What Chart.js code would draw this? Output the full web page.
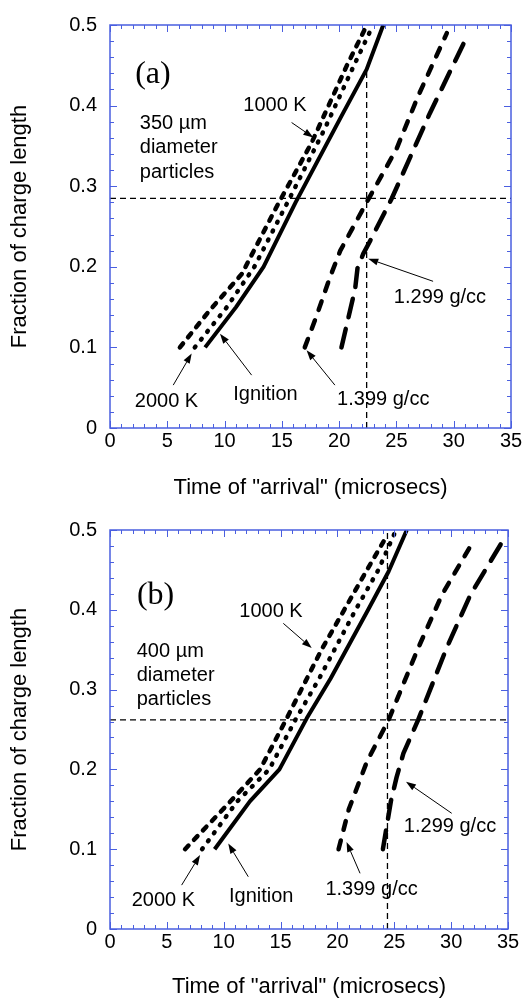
<!DOCTYPE html>
<html lang="en">
<head>
<meta charset="UTF-8" />
<title>Time of arrival vs fraction of charge length</title>
<script src="https://cdn.jsdelivr.net/npm/chart.js@4.4.0/dist/chart.umd.min.js"></script>
<style>
  body { margin: 0; background: #fff; }
  canvas { display: block; }
</style>
</head>
<body>
<canvas id="chartA" width="531" height="499"></canvas>
<canvas id="chartB" width="531" height="499"></canvas>
<script>
// axis ticks (labels)
const xTickVals = [0, 5, 10, 15, 20, 25, 30, 35];
const yTickVals = [0, 0.1, 0.2, 0.3, 0.4, 0.5];

// ---- panel (a): 350 um particles ----
const aTime1000K = [6.1, 8.7, 11.5, 14.6, 17.6, 20.65, 22.25];
const aFrac1000K = [0.1, 0.146, 0.191, 0.276, 0.354, 0.449, 0.495];
const aTime2000K = [7.4, 10.2, 12.6, 15.5, 18.7, 21.3, 22.8];
const aFrac2000K = [0.1, 0.15, 0.2, 0.28, 0.37, 0.45, 0.495];
const aTimeIgn = [8.3, 11.0, 13.4, 16.2, 20.2, 22.4, 23.85];
const aFracIgn = [0.1, 0.15, 0.2, 0.28, 0.387, 0.445, 0.5];
const aTime1399 = [17.0, 18.0, 19.2, 20.1, 22.4, 25.0, 26.9, 29.4];
const aFrac1399 = [0.1, 0.138, 0.187, 0.22, 0.28, 0.346, 0.412, 0.49];
const aTime1299 = [20.2, 21.4, 21.6, 22.1, 22.7, 24.6, 27.9, 31.1];
const aFrac1299 = [0.1, 0.173, 0.198, 0.216, 0.232, 0.285, 0.39, 0.484];
const aHTime = [0, 35];
const aHFrac = [0.285, 0.285];
const aVTime = [22.4, 22.4];
const aVFrac = [0, 0.445];

// ---- panel (b): 400 um particles ----
const bTime1000K = [6.6, 10.4, 13.2, 15.4, 18.6, 20.6, 22.6, 24.4];
const bFrac1000K = [0.1, 0.157, 0.2, 0.26, 0.35, 0.4, 0.45, 0.494];
const bTime2000K = [8.1, 11.2, 14.0, 16.3, 18.4, 21.6, 23.6, 25.0];
const bFrac2000K = [0.1, 0.16, 0.2, 0.262, 0.314, 0.4, 0.45, 0.495];
const bTimeIgn = [9.2, 12.3, 14.9, 17.3, 19.4, 22.7, 24.5, 26.1];
const bFracIgn = [0.1, 0.16, 0.2, 0.264, 0.314, 0.4, 0.448, 0.5];
const bTime1399 = [20.1, 21.0, 22.6, 24.5, 27.1, 29.2, 32.0];
const bFrac1399 = [0.1, 0.15, 0.21, 0.262, 0.352, 0.419, 0.487];
const bTime1299 = [24.0, 24.7, 25.2, 25.8, 27.1, 29.6, 31.7, 34.4];
const bFrac1299 = [0.1, 0.16, 0.19, 0.22, 0.262, 0.352, 0.419, 0.483];
const bHTime = [0, 35];
const bHFrac = [0.262, 0.262];
const bVTime = [24.4, 24.4];
const bVFrac = [0, 0.5];

const sans = "'Liberation Sans', Arial, Helvetica, sans-serif";
const serif = "'Liberation Serif', 'Times New Roman', serif";
const axisBlue = '#4a5fe0';

const curveStyles = {
  k1000: { borderWidth: 4.5, borderDash: [5, 8], borderCapStyle: 'round' },
  k2000: { borderWidth: 4.5, borderDash: [1, 9], borderCapStyle: 'round' },
  ign: { borderWidth: 4, borderDash: [] },
  d1399: { borderWidth: 4.5, borderDash: [9, 11], borderCapStyle: 'round' },
  d1299: { borderWidth: 4.5, borderDash: [19, 12], borderCapStyle: 'round' },
  guide: { borderWidth: 1.3, borderDash: [6, 4] }
};

function pts(xs, ys) {
  return xs.map((x, i) => ({ x: x, y: ys[i] }));
}

function curve(label, xs, ys, style) {
  return Object.assign({
    label: label,
    data: pts(xs, ys),
    showLine: true,
    borderColor: '#000',
    pointRadius: 0,
    fill: false,
    tension: 0,
    borderJoinStyle: 'round'
  }, style);
}

// blue box with inward ticks on all four sides
function drawFrame(chart) {
  const ctx = chart.ctx;
  const area = chart.chartArea;
  const xs = chart.scales.x, ys = chart.scales.y;
  ctx.save();
  ctx.setLineDash([]);
  ctx.strokeStyle = axisBlue;
  ctx.lineWidth = 1;
  ctx.beginPath();
  for (let i = 0; i <= 35; i++) {
    const px = Math.round(xs.getPixelForValue(i)) + 0.5;
    const len = i % 5 === 0 ? 7 : 4;
    ctx.moveTo(px, area.bottom); ctx.lineTo(px, area.bottom - len);
    ctx.moveTo(px, area.top); ctx.lineTo(px, area.top + len);
  }
  for (let i = 0; i <= 25; i++) {
    const py = Math.round(ys.getPixelForValue(i * 0.02)) + 0.5;
    const len = i % 5 === 0 ? 7 : 4;
    ctx.moveTo(area.left, py); ctx.lineTo(area.left + len, py);
    ctx.moveTo(area.right, py); ctx.lineTo(area.right - len, py);
  }
  ctx.stroke();
  ctx.lineWidth = 1.5;
  ctx.strokeRect(area.left, area.top, area.right - area.left, area.bottom - area.top);
  ctx.restore();
}

// frame, text labels and arrows (arrows/labels placed in data units)
const notesPlugin = {
  id: 'notes',
  afterDraw(chart, args, opts) {
    drawFrame(chart);
    const ctx = chart.ctx;
    const x = chart.scales.x, y = chart.scales.y;
    ctx.save();
    ctx.setLineDash([]);
    ctx.fillStyle = '#000';
    ctx.strokeStyle = '#000';
    opts.texts.forEach(n => {
      ctx.font = n.serif ? '32px ' + serif : '20px ' + sans;
      ctx.textAlign = n.align || 'center';
      ctx.textBaseline = n.serif ? 'alphabetic' : 'middle';
      ctx.fillText(n.t, x.getPixelForValue(n.x), y.getPixelForValue(n.y));
    });
    ctx.lineWidth = 1;
    opts.arrows.forEach(a => {
      const x0 = x.getPixelForValue(a[0]), y0 = y.getPixelForValue(a[1]);
      const x1 = x.getPixelForValue(a[2]), y1 = y.getPixelForValue(a[3]);
      const ang = Math.atan2(y1 - y0, x1 - x0);
      const hl = 10, hw = 3.5;
      const bx = x1 - hl * Math.cos(ang), by = y1 - hl * Math.sin(ang);
      ctx.beginPath();
      ctx.moveTo(x0, y0);
      ctx.lineTo(bx, by);
      ctx.stroke();
      ctx.beginPath();
      ctx.moveTo(x1, y1);
      ctx.lineTo(bx + hw * Math.sin(ang), by - hw * Math.cos(ang));
      ctx.lineTo(bx - hw * Math.sin(ang), by + hw * Math.cos(ang));
      ctx.closePath();
      ctx.fill();
    });
    ctx.restore();
  }
};

const notesA = {
  texts: [
    { t: '(a)', x: 2.2, y: 0.428, serif: true, align: 'left' },
    { t: '1000 K', x: 14.4, y: 0.4 },
    { t: '350 µm', x: 2.6, y: 0.3775, align: 'left' },
    { t: 'diameter', x: 2.6, y: 0.348, align: 'left' },
    { t: 'particles', x: 2.6, y: 0.317, align: 'left' },
    { t: '2000 K', x: 4.93, y: 0.033 },
    { t: 'Ignition', x: 13.57, y: 0.041 },
    { t: '1.399 g/cc', x: 23.85, y: 0.035 },
    { t: '1.299 g/cc', x: 28.8, y: 0.1625 }
  ],
  arrows: [
    [15.85, 0.379, 17.74, 0.3605],
    [5.52, 0.0532, 7.13, 0.0925],
    [12.36, 0.0656, 9.6, 0.117],
    [19.63, 0.0532, 17.16, 0.0965],
    [28.2, 0.182, 22.54, 0.21]
  ]
};

const notesB = {
  texts: [
    { t: '(b)', x: 2.37, y: 0.407, serif: true, align: 'left' },
    { t: '1000 K', x: 14.16, y: 0.3976 },
    { t: '400 µm', x: 2.35, y: 0.3475, align: 'left' },
    { t: 'diameter', x: 2.35, y: 0.318, align: 'left' },
    { t: 'particles', x: 2.35, y: 0.287, align: 'left' },
    { t: '2000 K', x: 4.69, y: 0.036 },
    { t: 'Ignition', x: 13.3, y: 0.0405 },
    { t: '1.399 g/cc', x: 23.0, y: 0.049 },
    { t: '1.299 g/cc', x: 29.9, y: 0.128 }
  ],
  arrows: [
    [15.24, 0.383, 17.74, 0.352],
    [6.3, 0.055, 7.92, 0.0927],
    [12.16, 0.0655, 10.4, 0.107],
    [21.99, 0.0698, 20.8, 0.109],
    [30.05, 0.145, 26.03, 0.1846]
  ]
};

function makeChart(id, datasets, notes, box) {
  return new Chart(document.getElementById(id), {
    type: 'scatter',
    data: { datasets: datasets },
    options: {
      responsive: false,
      animation: false,
      events: [],
      layout: { padding: { top: box.top, right: box.right, left: 0, bottom: 0 } },
      plugins: { legend: { display: false }, tooltip: { enabled: false }, notes: notes },
      scales: {
        x: {
          type: 'linear', min: 0, max: 35,
          afterBuildTicks: s => { s.ticks = xTickVals.map(v => ({ value: v })); },
          afterFit: s => { s.height = box.xHeight; },
          grid: { display: false, drawTicks: false },
          border: { display: false },
          ticks: { color: '#000', font: { family: sans, size: 20 }, padding: 1, maxRotation: 0, autoSkip: false },
          title: {
            display: true, text: 'Time of "arrival" (microsecs)', color: '#000',
            font: { family: sans, size: 22, lineHeight: 1 }, padding: { top: 0, bottom: 0 }
          }
        },
        y: {
          type: 'linear', min: 0, max: 0.5,
          afterBuildTicks: s => { s.ticks = yTickVals.map(v => ({ value: v })); },
          afterFit: s => { s.width = 110; },
          grid: { display: false, drawTicks: false },
          border: { display: false },
          ticks: {
            color: '#000', font: { family: sans, size: 20 }, padding: 13, autoSkip: false,
            callback: v => (v === 0 ? '0' : v.toFixed(1))
          },
          title: {
            display: true, text: 'Fraction of charge length', color: '#000',
            font: { family: sans, size: 22, lineHeight: 1 }, padding: { top: 9, bottom: 0 }
          }
        }
      }
    },
    plugins: [notesPlugin]
  });
}

makeChart('chartA', [
  curve('1000 K', aTime1000K, aFrac1000K, curveStyles.k1000),
  curve('2000 K', aTime2000K, aFrac2000K, curveStyles.k2000),
  curve('Ignition', aTimeIgn, aFracIgn, curveStyles.ign),
  curve('1.399 g/cc', aTime1399, aFrac1399, curveStyles.d1399),
  curve('1.299 g/cc', aTime1299, aFrac1299, curveStyles.d1299),
  curve('guide h', aHTime, aHFrac, curveStyles.guide),
  curve('guide v', aVTime, aVFrac, curveStyles.guide)
], notesA, { top: 24, right: 20, xHeight: 71 });

makeChart('chartB', [
  curve('1000 K', bTime1000K, bFrac1000K, curveStyles.k1000),
  curve('2000 K', bTime2000K, bFrac2000K, curveStyles.k2000),
  curve('Ignition', bTimeIgn, bFracIgn, curveStyles.ign),
  curve('1.399 g/cc', bTime1399, bFrac1399, curveStyles.d1399),
  curve('1.299 g/cc', bTime1299, bFrac1299, curveStyles.d1299),
  curve('guide h', bHTime, bHFrac, curveStyles.guide),
  curve('guide v', bVTime, bVFrac, curveStyles.guide)
], notesB, { top: 31, right: 23, xHeight: 69 });
</script>
</body>
</html>
